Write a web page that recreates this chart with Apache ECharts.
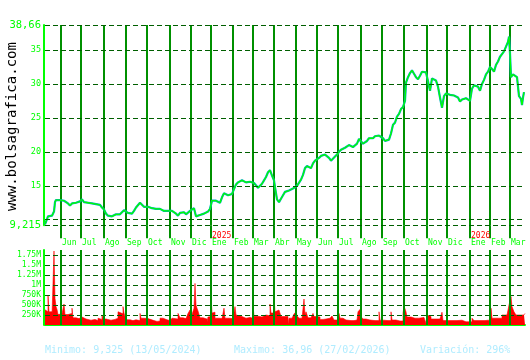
<!DOCTYPE html>
<html><head><meta charset="utf-8">
<script src="https://cdn.jsdelivr.net/npm/echarts@6/dist/echarts.min.js"></script>
<style>html,body{margin:0;padding:0;background:#fff}#c{width:530px;height:360px}</style>
</head><body><div id="c"></div>
<script>
// ---- data ----
const nDays = 481; // trading days from 13/05/2024
const monthIdx = [16,36,59,81,102,125,146,166,188,208,229,251,272,293,316,337,359,382,402,425,445,465];
const monthNames = ['Jun','Jul','Ago','Sep','Oct','Nov','Dic','Ene','Feb','Mar','Abr','May','Jun','Jul','Ago','Sep','Oct','Nov','Dic','Ene','Feb','Mar'];
const yearIdx = [166, 425];
const yearNames = ['2025','2026'];
const priceTicks = [38.66,35,30,25,20,15,10,9.215];
const priceTickLabels = ['38,66','35','30','25','20','15','','9,215'];
const volTicks = [250000,500000,750000,1000000,1250000,1500000,1750000];
const volTickLabels = ['250K','500K','750K','1M','1.25M','1.5M','1.75M'];
const volTop = 1875000;
const priceDay = [0,1,2,3,5,7,9,10,11,13,15,17,19,21,23,25,27,29,31,33,35,37,39,41,43,45,47,49,51,53,55,57,59,61,63,65,67,69,71,73,75,77,79,81,83,85,87,89,91,93,95,97,99,101,103,105,107,109,111,113,115,117,119,121,123,125,127,129,131,133,135,137,139,141,143,145,147,149,151,153,155,157,159,161,163,165,167,169,171,173,175,177,179,181,183,185,187,189,191,193,195,197,199,201,203,205,207,209,211,213,215,217,219,221,223,225,227,229,230,232,234,236,238,240,242,244,246,248,250,252,254,256,258,260,262,264,266,268,270,272,274,276,278,280,282,284,286,288,290,292,294,296,298,300,302,304,306,308,310,312,314,316,318,320,322,324,326,328,330,332,334,336,338,340,342,344,346,348,350,352,354,356,358,360,361,363,365,367,369,371,373,375,377,379,381,383,385,387,389,391,393,395,397,399,401,403,405,407,409,411,413,415,417,419,421,423,425,427,429,431,433,435,437,439,441,443,445,447,449,451,453,455,457,459,461,463,464,465,466,468,470,472,474,476,477,478,479];
const priceVal = [9.33,9.6,10.1,10.5,10.6,10.6,11.2,12.6,12.9,12.8,12.9,12.7,12.8,12.6,12.4,12.1,12.4,12.6,12.5,12.6,12.7,13.0,12.6,12.4,12.5,12.3,12.4,12.5,12.3,12.4,12.2,11.8,11.5,10.9,10.6,10.6,10.5,10.7,10.8,10.7,10.8,10.9,11.4,11.3,11.0,10.8,10.9,11.3,11.8,12.0,12.5,12.3,11.9,11.8,11.9,11.8,11.7,11.6,11.6,11.5,11.6,11.5,11.3,11.3,11.3,11.2,11.3,11.3,10.9,10.6,11.0,11.2,11.1,10.8,10.6,11.3,11.5,11.7,10.5,10.4,10.7,10.8,10.9,11.1,11.2,11.6,12.8,12.9,12.8,12.6,12.5,13.3,13.9,13.7,13.6,13.7,13.8,14.5,15.2,15.5,15.7,15.8,15.6,15.5,15.6,15.6,15.4,15.4,15.2,14.7,15.0,15.3,15.8,16.3,17.0,17.3,16.5,15.8,14.8,13.0,12.6,13.1,13.6,14.1,14.2,14.3,14.4,14.6,14.7,15.0,15.1,15.9,16.6,17.6,17.9,17.8,17.6,18.3,18.7,18.8,19.1,19.4,19.6,19.6,19.4,19.1,18.7,18.8,19.3,19.6,20.0,20.3,20.5,20.6,20.8,21.0,21.0,20.7,20.9,21.2,21.9,21.8,21.2,21.3,21.6,22.0,22.1,22.0,22.3,22.4,22.4,22.6,22.0,21.6,21.4,21.8,22.7,24.0,24.3,25.2,25.6,26.3,26.6,27.5,30.2,31.0,31.6,32.0,31.5,31.0,30.7,31.2,31.8,32.0,31.7,30.4,29.0,30.8,30.9,30.5,29.6,28.0,26.5,28.2,28.6,28.5,28.4,28.6,28.3,28.2,28.0,27.4,27.7,27.9,27.9,27.8,27.5,29.3,29.8,30.0,29.6,29.0,30.0,30.6,31.4,31.8,32.5,32.2,31.8,32.8,33.3,34.0,34.4,34.8,35.0,36.2,36.96,34.5,31.0,31.4,31.6,31.0,28.2,27.8,26.9,28.0,28.8];
const volDay = [0,1,3,4,7,9,10,11,12,13,15,17,19,20,23,25,27,28,31,34,37,39,41,43,46,48,50,53,55,57,58,61,63,66,68,70,73,75,78,79,80,82,85,88,91,95,96,99,103,105,109,112,115,118,122,125,127,129,133,135,138,141,143,145,147,149,150,151,152,153,155,158,162,163,165,166,167,168,170,174,177,179,180,184,188,190,191,193,197,201,205,208,209,213,217,221,225,226,229,230,232,234,236,239,243,244,247,249,251,252,254,257,259,260,261,263,266,268,269,272,275,278,281,285,287,289,293,294,295,298,301,303,306,309,312,313,315,316,318,321,325,330,334,335,339,343,346,347,351,355,358,359,361,362,366,370,374,379,381,382,384,386,391,395,397,398,403,408,412,417,421,427,429,435,440,443,444,446,447,452,457,462,464,466,467,469,471,475,479,480];
const volK = [380,330,750,330,250,1850,670,460,390,260,280,250,525,260,250,290,420,180,160,200,210,150,140,120,100,140,110,170,140,250,150,110,120,170,140,170,330,280,460,300,210,130,110,130,110,290,170,160,210,110,90,100,170,130,110,80,170,150,290,180,160,190,290,375,260,420,1040,500,420,350,180,150,80,200,210,710,300,320,170,160,200,420,170,160,200,460,250,210,170,190,170,500,220,200,250,230,525,300,710,330,375,390,210,210,25,170,170,275,330,230,170,180,650,250,330,180,160,290,210,200,140,150,170,150,225,125,130,290,170,125,170,110,110,125,125,330,390,210,150,125,110,110,330,120,110,110,330,125,100,100,290,475,330,200,170,170,190,170,40,250,210,150,150,160,320,110,110,110,120,80,80,170,110,110,120,170,110,420,170,170,250,260,500,710,460,330,250,250,290,290];

// ---- chart ----
const FONT = 'DejaVu Sans Mono';
const GREEN = '#00ff00', VLINE = '#009000', DASH = '#005f00';
const cats = Array.from({length: nDays}, (_, i) => String(i));
const price = priceDay.map((d, k) => [d, priceVal[k]]);
const vol = volDay.map((d, k) => [d, volK[k] * 1000]);
const isMonth = (i) => monthIdx.indexOf(i) >= 0;
const isYear = (i) => yearIdx.indexOf(i) >= 0;
const EPS = 0.02;

const chart = echarts.init(document.getElementById('c'), null, {renderer: 'canvas'});
const titleChars = 'www.bolsagrafica.com'.split('');
chart.setOption({
  animation: false,
  backgroundColor: '#fff',
  grid: [
    {left: 45, right: 5, top: 25, height: 200.2},
    {left: 45, right: 5, top: 250, height: 75}
  ],
  xAxis: [
    {type: 'category', gridIndex: 0, position: 'bottom', data: cats, boundaryGap: false,
     axisLine: {show: false},
     axisTick: {show: true, interval: isMonth, length: 13, lineStyle: {color: VLINE, width: 2}},
     splitLine: {show: true, interval: isMonth, lineStyle: {color: VLINE, width: 2}},
     axisLabel: {show: true, interval: isMonth, formatter: (v, i) => monthNames[monthIdx.indexOf(i)] || '',
       align: 'left', margin: 14, color: GREEN, fontFamily: FONT, fontSize: 8, padding: [0,0,0,1]}},
    {type: 'category', gridIndex: 1, position: 'bottom', data: cats, boundaryGap: false,
     axisLine: {show: true, lineStyle: {color: GREEN, width: 2}},
     axisTick: {show: false}, axisLabel: {show: false}, splitLine: {show: false}},
    {type: 'category', gridIndex: 0, position: 'bottom', offset: 0, data: cats, boundaryGap: false,
     axisLine: {show: false}, axisTick: {show: false}, splitLine: {show: false},
     axisLabel: {show: true, interval: isYear, formatter: (v, i) => yearNames[yearIdx.indexOf(i)] || '',
       align: 'left', margin: 7, color: '#ff0000', fontFamily: FONT, fontSize: 8, padding: [0,0,0,1]}}
  ],
  yAxis: [
    {type: 'value', gridIndex: 0, min: priceTicks[priceTicks.length-1] - EPS, max: priceTicks[0] + EPS, offset: 1,
     axisLine: {show: true, lineStyle: {color: GREEN, width: 2}},
     axisTick: {show: false}, axisLabel: {show: false}, splitLine: {show: false}},
    {type: 'value', gridIndex: 1, min: 0, max: volTop, interval: 250000, offset: 1,
     axisLine: {show: true, lineStyle: {color: GREEN, width: 2}},
     axisTick: {show: false}, splitLine: {show: false},
     axisLabel: {formatter: (v) => { const k = volTicks.indexOf(v); return k < 0 ? '' : volTickLabels[k]; },
       color: GREEN, fontFamily: FONT, fontSize: 8, margin: 3}}
  ],
  series: [
    {type: 'line', xAxisIndex: 0, yAxisIndex: 0, data: [], z: 1, silent: true,
     markLine: {silent: true, symbol: 'none', animation: false,
       lineStyle: {color: DASH, type: [5, 3], width: 1},
       data: priceTicks.map((v, k) => ({yAxis: v,
         label: {show: true, position: 'start', distance: 4, formatter: priceTickLabels[k],
           color: GREEN, fontFamily: FONT, fontSize: (k === 0 || k === priceTicks.length - 1) ? 10.5 : 8.5}}))}},
    {type: 'line', xAxisIndex: 0, yAxisIndex: 0, data: price, z: 3, symbol: 'none', silent: true,
     lineStyle: {color: '#00a8c8', width: 2.2}},
    {type: 'line', xAxisIndex: 0, yAxisIndex: 0, data: price, z: 4, symbol: 'none', silent: true,
     lineStyle: {color: '#00ff00', width: 1.3}},
    {type: 'line', xAxisIndex: 1, yAxisIndex: 1, data: [], z: 1, silent: true,
     markLine: {silent: true, symbol: 'none', animation: false,
       lineStyle: {color: DASH, type: [5, 3], width: 1}, label: {show: false},
       data: volTicks.map(v => ({yAxis: v}))}},
    {type: 'line', xAxisIndex: 1, yAxisIndex: 1, data: vol, step: 'end', z: 2, symbol: 'none', silent: true,
     lineStyle: {color: '#ff0000', width: 0.6}, areaStyle: {color: '#ff0000', opacity: 1}},
    {type: 'line', xAxisIndex: 1, yAxisIndex: 1, data: [], z: 5, silent: true,
     markLine: {silent: true, symbol: 'none', animation: false,
       lineStyle: {color: VLINE, type: 'solid', width: 2}, label: {show: false},
       data: monthIdx.map(i => ({xAxis: i}))}}
  ],
  graphic: [
    {type: 'group', x: 12, y: 211, rotation: Math.PI / 2,
     children: titleChars.map((ch, k) => ({type: 'text', x: k * 8.45, y: 0,
       style: {text: ch, fill: '#000', font: '14px "DejaVu Sans Mono"', textAlign: 'left', textVerticalAlign: 'middle'}}))},
    {type: 'text', left: 45, top: 345, style: {text: 'Minimo: 9,325 (13/05/2024)', fill: '#b0ecff', font: '10px "DejaVu Sans Mono"'}},
    {type: 'text', left: 234, top: 345, style: {text: 'Maximo: 36,96 (27/02/2026)', fill: '#b0ecff', font: '10px "DejaVu Sans Mono"'}},
    {type: 'text', left: 420, top: 345, style: {text: 'Variación: 296%', fill: '#b0ecff', font: '10px "DejaVu Sans Mono"'}}
  ]
});
</script>
</body></html>
